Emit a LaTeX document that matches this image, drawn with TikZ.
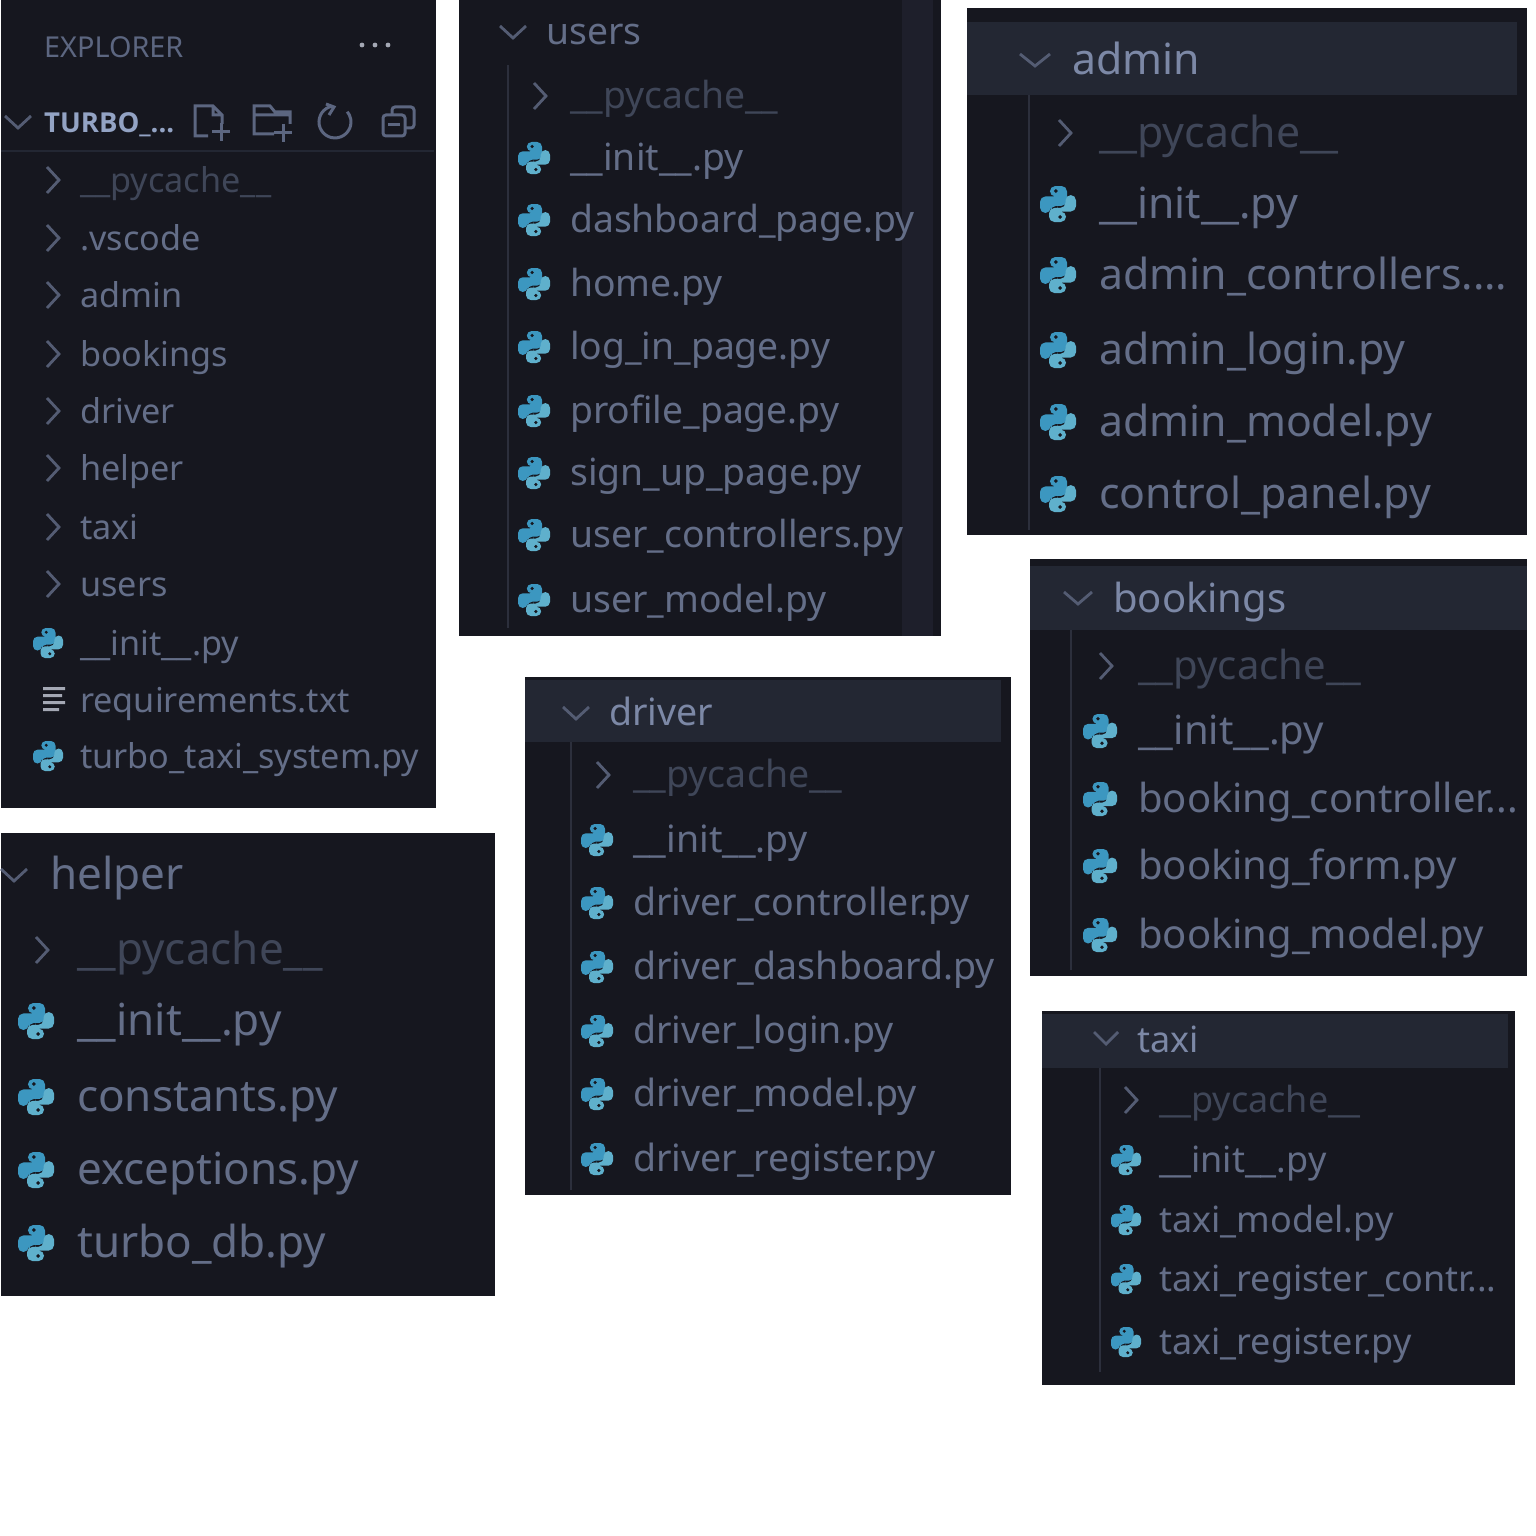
\documentclass[tikz,border=0pt]{standalone}
\usepackage{fontspec}
\setmainfont{Noto Sans}
\newfontfamily\boldish{Open Sans}
\definecolor{bgdark}{HTML}{16171F}
\definecolor{band}{HTML}{232733}
\definecolor{bandedge}{HTML}{2A2E3B}
\definecolor{sbar}{HTML}{1E1F2B}
\definecolor{filetx}{HTML}{646E88}
\definecolor{dimtx}{HTML}{3F4658}
\definecolor{headtx}{HTML}{7C88A6}
\definecolor{roottx}{HTML}{93A3C4}
\definecolor{chev}{HTML}{545C73}
\definecolor{tooltx}{HTML}{5C6680}
\definecolor{lightmark}{HTML}{A4A8B4}
\definecolor{guide}{HTML}{2C2F3C}
\definecolor{pytop}{HTML}{3C97C0}
\definecolor{pybot}{HTML}{5FB0CC}
\newcount\tcnt
\def\curS{34}
\def\curT{80}
\def\curI{48}
\def\curC{52}
\def\curR{15}
\newcommand{\lbl}[5]{% x y size colour text
  \global\advance\tcnt by 1
  \node[anchor=base west,inner sep=0pt,text=#4,font=\fontsize{#3}{#3}\selectfont] (t\the\tcnt) at (#1,{#2+0.27*#3+2.8}) {#5};}
\newcommand{\chevr}[3]{\draw[chevl] (#1-6,#2-#3) -- (#1+6,#2) -- (#1-6,#2+#3);}
\newcommand{\chevd}[3]{\draw[chevl] (#1-#3,#2-6) -- (#1,#2+6) -- (#1+#3,#2-6);}
\newcommand{\pyi}[3]{%
  \begin{scope}[shift={(#1,#2)},x=#3pt,y=-#3pt]
    \fill[pytop,rounded corners=0.3*#3pt] (.05,-.42) -- (-.45,-.42) -- (-.45,-1) -- (.5,-1) -- (.5,.1) -- (-.4,.1) -- (-.4,.5) -- (-1,.5) -- (-1,-.42) -- (.05,-.42) -- cycle;
    \fill[pybot,rounded corners=0.3*#3pt] (-.05,.42) -- (.45,.42) -- (.45,1) -- (-.5,1) -- (-.5,.22) -- (.42,.22) -- (.42,-.5) -- (1,-.5) -- (1,.42) -- (-.05,.42) -- cycle;
    \fill[bgdark] (-.12,-.72) circle (.11) (.12,.72) circle (.11);
  \end{scope}}
\newcommand{\fil}[2]{\pyi{\curI}{#1}{\curR}\lbl{\curT}{#1}{\curS}{filetx}{#2}}
\newcommand{\pyc}[1]{\chevr{\curC}{#1}{13}\lbl{\curT}{#1}{\curS}{dimtx}{\_\_pycache\_\_}}
\newcommand{\dirr}[2]{\chevr{\curC}{#1}{13}\lbl{\curT}{#1}{\curS}{filetx}{#2}}
\tikzset{chevl/.style={draw=chev,line width=2.8pt,line join=miter},
 tool/.style={draw=tooltx,line width=3pt},
 guideline/.style={draw=guide,line width=2pt},
 panel/.style={fill=bgdark},
 bandfill/.style={fill=band}}
\begin{document}
\begin{tikzpicture}[x=1pt,y=-1pt]
\useasboundingbox (0,0) rectangle (1536,1536);
\fill[white] (0,0) rectangle (1536,1536);
% panel rectangles
\fill[panel] (1,0) rectangle (436,808);
\fill[panel] (459,0) rectangle (941,636);
\fill[panel] (967,8) rectangle (1527,535);
\fill[panel] (1030,559) rectangle (1527,976);
\fill[panel] (525,677) rectangle (1011,1195);
\fill[panel] (1,833) rectangle (495,1296);
\fill[panel] (1042,1011) rectangle (1515,1385);
% ---- explorer
\lbl{44}{47}{28.8}{tooltx}{EXPLORER}
\fill[lightmark] (362,45) circle (2.4) (375,45) circle (2.4) (388,45) circle (2.4);
\chevd{18}{122}{13}
\lbl{44}{122}{27.5}{roottx}{\boldish\bfseries TURBO\_...}
\draw[tool] (208,136) -- (195,136) -- (195,106) -- (213,106) -- (222,115) -- (222,124) (213,106) -- (213,115) -- (222,115);
\draw[tool] (221,123) -- (221,141) (212,132) -- (230,132);
\draw[tool] (274,134) -- (254,134) -- (254,106) -- (270,106) -- (275,112) -- (290,112) -- (290,124) (254,115) -- (290,115);
\draw[tool] (283,124) -- (283,142) (274,133) -- (292,133);
\draw[tool] (332.2,106.2) arc[start angle=-100,end angle=-400,radius=16];
\draw[tool] (326,104) -- (334,107) -- (329,115);
\draw[tool,rounded corners=3pt] (383,115) rectangle (405,136);
\draw[tool,rounded corners=3pt] (392,115) -- (392,107) -- (414,107) -- (414,128) -- (405,128);
\draw[tool] (388,125) -- (400,125);
\draw[draw=band,line width=1.5pt] (1,151) -- (434,151);
\def\curS{34.2}\def\curT{80}\def\curI{48}\def\curC{53}\def\curR{15}
\pyc{180}
\dirr{238}{.vscode}
\dirr{295}{admin}
\dirr{354}{bookings}
\dirr{411}{driver}
\dirr{468}{helper}
\dirr{527}{taxi}
\dirr{584}{users}
\fil{643}{\_\_init\_\_.py}
\fill[lightmark] (43,687) rectangle (65,690) (43,694) rectangle (62,697) (43,701) rectangle (65,704) (43,708) rectangle (59,711);
\lbl{80}{700}{34.2}{filetx}{requirements.txt}
\fil{756}{turbo\_taxi\_system.py}
% ---- users
\fill[sbar] (902,0) rectangle (933,636);
\draw[guideline] (508,65) -- (508,628);
\chevd{513}{32}{13}
\lbl{546}{32}{37.3}{filetx}{users}
\def\curS{37.3}\def\curT{570}\def\curI{534}\def\curC{540}\def\curR{16}
\pyc{96}
\fil{158}{\_\_init\_\_.py}
\fil{220}{dashboard\_page.py}
\fil{284}{home.py}
\fil{347}{log\_in\_page.py}
\fil{411}{profile\_page.py}
\fil{473}{sign\_up\_page.py}
\fil{535}{user\_controllers.py}
\fil{600}{user\_model.py}
% ---- admin
\fill[bandfill] (967,22) rectangle (1517,95);
\draw[guideline] (1029,95) -- (1029,530);
\chevd{1035}{60}{15}
\lbl{1072}{60}{42.8}{headtx}{admin}
\def\curS{42.8}\def\curT{1099}\def\curI{1058}\def\curC{1065}\def\curR{18}
\pyc{133}
\fil{204}{\_\_init\_\_.py}
\fil{275}{admin\_controllers....}
\fil{350}{admin\_login.py}
\fil{422}{admin\_model.py}
\fil{494}{control\_panel.py}
% ---- bookings
\fill[bandfill] (1030,566) rectangle (1527,630);
\draw[guideline] (1071,630) -- (1071,970);
\chevd{1078}{598}{14}
\lbl{1113}{599}{40}{headtx}{bookings}
\def\curS{40}\def\curT{1138}\def\curI{1100}\def\curC{1106}\def\curR{17}
\pyc{666}
\fil{731}{\_\_init\_\_.py}
\fil{799}{booking\_controller...}
\fil{866}{booking\_form.py}
\fil{935}{booking\_model.py}
% ---- driver
\fill[bandfill] (525,680) rectangle (1001,742);
\draw[guideline] (571,742) -- (571,1190);
\chevd{576}{713}{13}
\lbl{609}{713}{37.5}{headtx}{driver}
\def\curS{37.5}\def\curT{633}\def\curI{597}\def\curC{603}\def\curR{16}
\pyc{775}
\fil{840}{\_\_init\_\_.py}
\fil{903}{driver\_controller.py}
\fil{967}{driver\_dashboard.py}
\fil{1031}{driver\_login.py}
\fil{1094}{driver\_model.py}
\fil{1159}{driver\_register.py}
% ---- helper
\chevd{14}{875}{13}
\lbl{50}{875}{44}{filetx}{helper}
\def\curS{44}\def\curT{77}\def\curI{36}\def\curC{42}\def\curR{18}
\pyc{950}
\fil{1021}{\_\_init\_\_.py}
\fil{1097}{constants.py}
\fil{1170}{exceptions.py}
\fil{1243}{turbo\_db.py}
% ---- taxi
\fill[bandfill] (1042,1014) rectangle (1508,1068);
\draw[guideline] (1100,1068) -- (1100,1372);
\chevd{1106}{1038}{12}
\lbl{1137}{1040}{36}{headtx}{taxi}
\def\curS{36}\def\curT{1159}\def\curI{1126}\def\curC{1131}\def\curR{15}
\pyc{1100}
\fil{1160}{\_\_init\_\_.py}
\fil{1220}{taxi\_model.py}
\fil{1279}{taxi\_register\_contr...}
\fil{1342}{taxi\_register.py}
\end{tikzpicture}
\end{document}
